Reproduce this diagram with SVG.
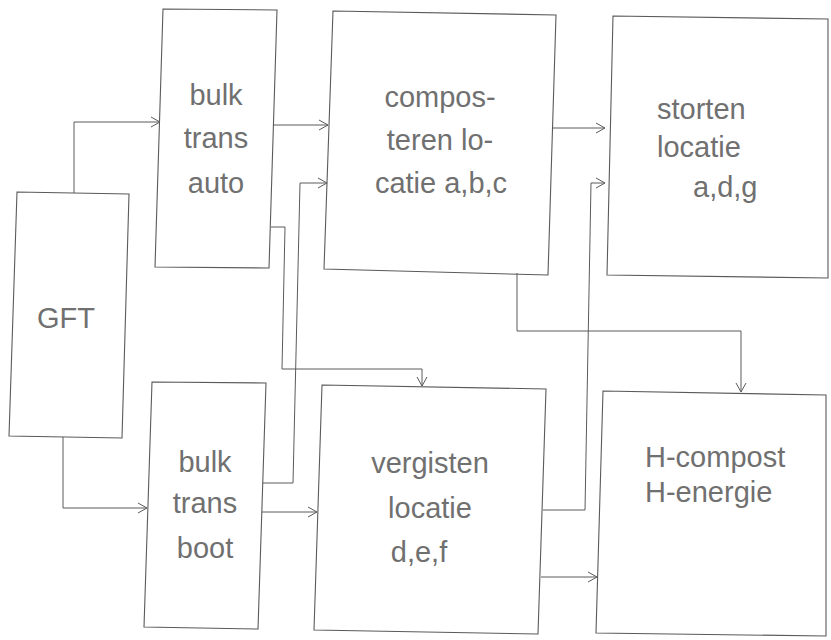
<svg xmlns="http://www.w3.org/2000/svg" width="831" height="640" viewBox="0 0 831 640">
<style>
.box{fill:none;stroke:#5a5a5a;stroke-width:1.1}
.c{fill:none;stroke:#5a5a5a;stroke-width:1}
text{font-family:"Liberation Sans",Arial,sans-serif;fill:#707070;font-size:29px}
.m{text-anchor:middle}
</style>
<defs>
<marker id="a" markerWidth="12" markerHeight="12" refX="10" refY="6" orient="auto" markerUnits="userSpaceOnUse">
<path d="M1,1 L10,6 L1,11" fill="none" stroke="#5a5a5a" stroke-width="1"/>
</marker>
</defs>
<rect width="831" height="640" fill="#fff"/>
<g id="connectors">
<path class="c" d="M74,193 V122 H160" marker-end="url(#a)"/>
<path class="c" d="M273,125 H328" marker-end="url(#a)"/>
<path class="c" d="M263,483 H293 L300,183 H327" marker-end="url(#a)"/>
<path class="c" d="M271,227 H285 L282,369 H422 V386" marker-end="url(#a)"/>
<path class="c" d="M552,128 H605" marker-end="url(#a)"/>
<path class="c" d="M543,510 H585 L591,183 H605" marker-end="url(#a)"/>
<path class="c" d="M517,273 V331 H741 V392" marker-end="url(#a)"/>
<path class="c" d="M63,437 V508 H147" marker-end="url(#a)"/>
<path class="c" d="M262,512 H317" marker-end="url(#a)"/>
<path class="c" d="M541,577 H597" marker-end="url(#a)"/>
</g>
<g id="gft">
<polygon class="box" points="17,192 129,194 122,438 9,436"/>
<text class="m" x="66" y="328" font-size="34">GFT</text>
</g>
<g id="bulk-auto">
<polygon class="box" points="163,9 277,10 269,268 155,267"/>
<text class="m" x="216" y="105">bulk</text>
<text class="m" x="216" y="148">trans</text>
<text class="m" x="216" y="193">auto</text>
</g>
<g id="composteren">
<polygon class="box" points="333,11 556,15 548,275 324,269"/>
<text class="m" x="440" y="107">compos-</text>
<text class="m" x="440" y="150">teren lo-</text>
<text class="m" x="441" y="193">catie a,b,c</text>
</g>
<g id="storten">
<polygon class="box" points="613,16 828,19 828,278 607,275"/>
<text x="657" y="119">storten</text>
<text x="657" y="157">locatie</text>
<text x="693" y="197">a,d,g</text>
</g>
<g id="bulk-boot">
<polygon class="box" points="152,382 266,383 258,629 144,627"/>
<text class="m" x="205" y="472" font-size="31">bulk</text>
<text class="m" x="205" y="513" font-size="31">trans</text>
<text class="m" x="205" y="558" font-size="31">boot</text>
</g>
<g id="vergisten">
<polygon class="box" points="322,385 546,389 538,634 314,630"/>
<text class="m" x="430" y="473" font-size="32">vergisten</text>
<text class="m" x="430" y="518" font-size="32">locatie</text>
<text class="m" x="419" y="562" font-size="32">d,e,f</text>
</g>
<g id="h-compost">
<polygon class="box" points="603,391 826,395 826,636 596,633"/>
<text x="645" y="467">H-compost</text>
<text x="645" y="502">H-energie</text>
</g>
</svg>
